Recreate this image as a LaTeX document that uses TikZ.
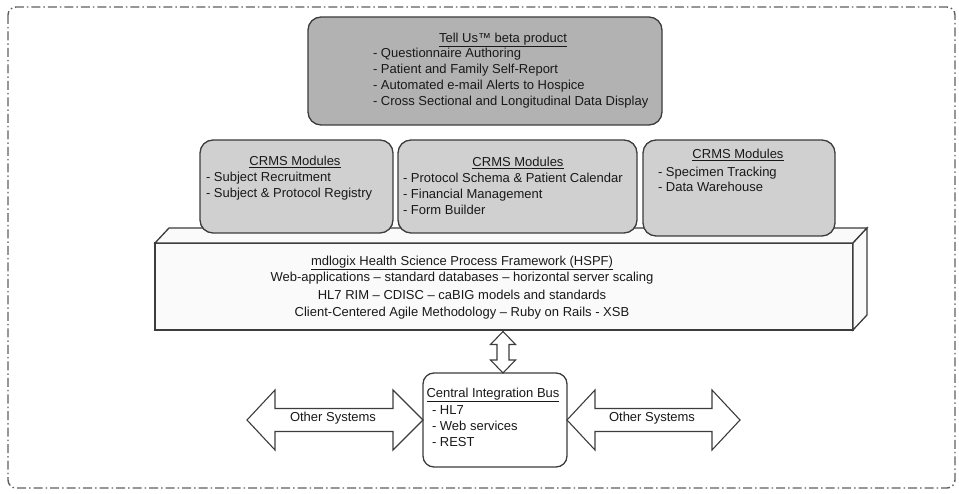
\documentclass[tikz,border=0pt]{standalone}
\usepackage{fontspec}
\setmainfont{Liberation Sans}
\usetikzlibrary{calc}
\definecolor{edge}{RGB}{60,60,60}
\definecolor{tellfill}{RGB}{178,178,178}
\definecolor{crmsfill}{RGB}{208,208,208}
\definecolor{framefill}{RGB}{250,250,250}
\definecolor{borderc}{RGB}{95,95,95}
\begin{document}
\begin{tikzpicture}[x=1pt,y=-1pt,
  box/.style={draw=edge, line width=1.3pt, inner sep=0pt, outer sep=0pt},
  roundbox/.style={box, rounded corners=13pt},
  txt/.style={inner sep=0pt, outer sep=0pt, font=\fontsize{13pt}{16pt}\selectfont, text=black!90},
  list/.style={txt, align=left, anchor=west},
  arrowshape/.style={draw=edge, line width=1.1pt, fill=white, line join=miter}
]
\useasboundingbox (0,0) rectangle (959,494);
\draw[borderc, line width=1.4pt, rounded corners=8pt, dash pattern=on 9pt off 3pt on 1.5pt off 3pt] (8,7) rectangle (955,488);

% Tell Us box
\node[roundbox, fill=tellfill, minimum width=354pt, minimum height=108pt] (tell) at (485,71) {};
\node[txt] (telltitle) at (503,40) {\underline{Tell Us™ beta product}};
\node[list] (tellitems) at (373,78) {- Questionnaire Authoring\\- Patient and Family Self-Report\\- Automated e-mail Alerts to Hospice\\- Cross Sectional and Longitudinal Data Display};

% HSPF cuboid
\node[box, fill=framefill, minimum width=698pt, minimum height=87pt] (hspf) at (504,286.5) {};
\draw[box, fill=framefill, line join=miter] (hspf.north west) -- ($(hspf.north west)+(14,-15)$) -- ($(hspf.north east)+(14,-15)$) -- (hspf.north east) -- cycle;
\draw[box, fill=framefill, line join=miter] (hspf.north east) -- ($(hspf.north east)+(14,-15)$) -- ($(hspf.south east)+(14,-15)$) -- (hspf.south east) -- cycle;
\node[txt] (hspftitle) at (462,263) {\underline{mdlogix Health Science Process Framework (HSPF)}};
\node[txt, align=center, font=\fontsize{13pt}{17.5pt}\selectfont] (hspfbody) at (462,296) {Web-applications – standard databases – horizontal server scaling\\HL7 RIM – CDISC – caBIG models and standards\\Client-Centered Agile Methodology – Ruby on Rails - XSB};

% CRMS modules
\node[roundbox, fill=crmsfill, minimum width=193pt, minimum height=93pt] (crmsa) at (296.5,186.5) {};
\node[txt] (crmsatitle) at (295,162) {\underline{CRMS Modules}};
\node[list] (crmsaitems) at (206,186) {- Subject Recruitment\\- Subject \& Protocol Registry};

\node[roundbox, fill=crmsfill, minimum width=239pt, minimum height=93pt] (crmsb) at (517.5,186.5) {};
\node[txt] (crmsbtitle) at (518,163) {\underline{CRMS Modules}};
\node[list] (crmsbitems) at (403,194) {- Protocol Schema \& Patient Calendar\\- Financial Management\\- Form Builder};

\node[roundbox, fill=crmsfill, minimum width=192pt, minimum height=96pt] (crmsc) at (739,188) {};
\node[txt] (crmsctitle) at (738,155) {\underline{CRMS Modules}};
\node[list, font=\fontsize{13pt}{15pt}\selectfont] (crmscitems) at (658,179.5) {- Specimen Tracking\\- Data Warehouse};

% Central Integration Bus
\node[roundbox, fill=white, rounded corners=11pt, minimum width=144pt, minimum height=94pt] (bus) at (495,420) {};
\node[txt] (bustitle) at (493,395) {\underline{Central Integration Bus}};
\node[list] (busitems) at (432,426) {- HL7\\- Web services\\- REST};

% vertical double arrow
\coordinate (vt) at ($(hspf.south)+(-1,1.5)$);
\coordinate (vb) at (vt |- bus.north);
\draw[arrowshape] (vt) -- ($(vt)+(-12.5,13)$) -- ($(vt)+(-6,13)$) -- ($(vb)+(-6,-13)$) -- ($(vb)+(-12.5,-13)$) -- (vb)
  -- ($(vb)+(12.5,-13)$) -- ($(vb)+(6,-13)$) -- ($(vt)+(6,13)$) -- ($(vt)+(12.5,13)$) -- cycle;

% left Other Systems arrow
\coordinate (la) at (247,420);
\draw[arrowshape] (la) -- ($(la)+(28,-30)$) -- ($(la)+(28,-11.5)$) -- ($(bus.west)+(-30,-11.5)$) -- ($(bus.west)+(-30,-30)$) -- (bus.west)
  -- ($(bus.west)+(-30,30)$) -- ($(bus.west)+(-30,11.5)$) -- ($(la)+(28,11.5)$) -- ($(la)+(28,30)$) -- cycle;
\node[txt] (othera) at (333,418) {Other Systems};

% right Other Systems arrow
\coordinate (ra) at (740,420);
\draw[arrowshape] (bus.east) -- ($(bus.east)+(28,-30)$) -- ($(bus.east)+(28,-11.5)$) -- ($(ra)+(-28,-11.5)$) -- ($(ra)+(-28,-30)$) -- (ra)
  -- ($(ra)+(-28,30)$) -- ($(ra)+(-28,11.5)$) -- ($(bus.east)+(28,11.5)$) -- ($(bus.east)+(28,30)$) -- cycle;
\node[txt] (otherb) at (652,418) {Other Systems};
\end{tikzpicture}
\end{document}
